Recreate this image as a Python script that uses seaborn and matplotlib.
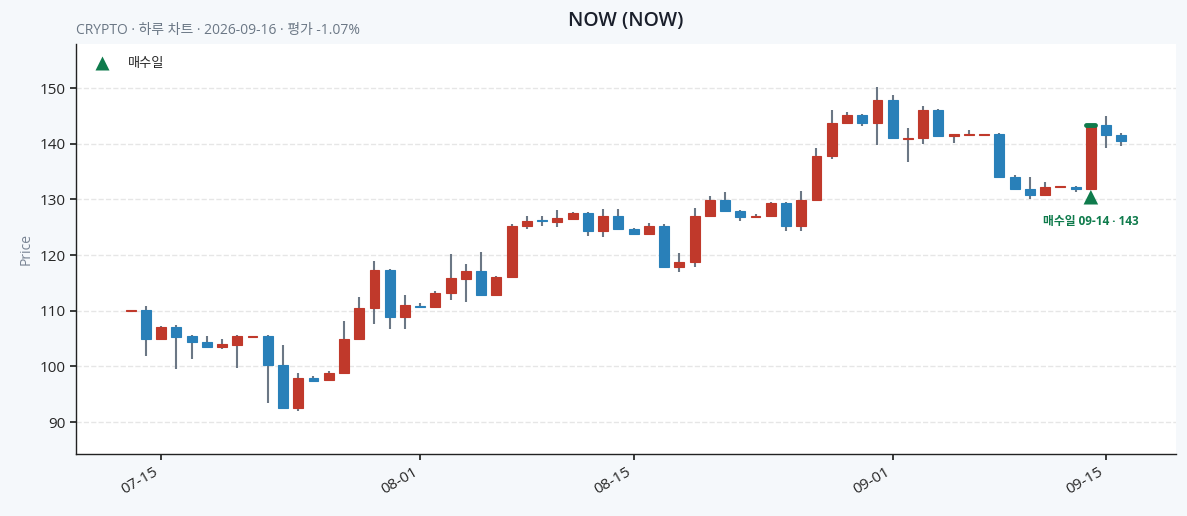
import pandas as pd
import numpy as np
import matplotlib
matplotlib.use("Agg")
import matplotlib.pyplot as plt
import matplotlib.dates as mdates
import seaborn as sns

# Daily OHLC (2026-07-13 .. 2026-09-16)
dates = pd.date_range("2026-07-13", "2026-09-16", freq="D")
opens = [110.0, 110.2, 104.9, 107.1, 105.5, 104.4, 103.5, 103.9, 105.3, 105.4,
         100.2, 92.5, 97.9, 97.5, 98.9, 104.9, 110.4, 117.4, 108.9, 110.9,
         110.7, 113.1, 115.7, 117.2, 112.8, 116.0, 125.2, 126.3, 126.0, 126.5,
         127.5, 124.4, 127.1, 124.6, 123.7, 125.2, 117.8, 118.7, 127.1, 129.8,
         127.9, 126.8, 127.1, 129.3, 125.2, 129.8, 137.7, 143.7, 145.1, 143.7,
         147.8, 140.9, 141.0, 146.0, 141.3, 141.6, 141.6, 141.7, 134.1, 131.8,
         130.7, 132.2, 132.3, 131.8, 143.3, 141.5]
closes = [110.1, 104.9, 107.0, 105.3, 104.3, 103.5, 104.0, 105.4, 105.4, 100.2,
          92.5, 97.9, 97.4, 98.9, 104.9, 110.4, 117.4, 108.9, 111.0, 110.7,
          113.1, 115.8, 117.2, 112.8, 116.0, 125.2, 126.2, 126.1, 126.6, 127.5,
          124.4, 127.1, 124.6, 123.7, 125.2, 117.8, 118.7, 127.1, 129.8, 127.9,
          126.8, 127.1, 129.3, 125.2, 129.9, 137.8, 143.7, 145.1, 143.7, 147.8,
          141.0, 141.0, 146.0, 141.3, 141.7, 141.8, 141.7, 134.1, 131.8, 130.7,
          132.3, 132.3, 131.8, 143.3, 141.5, 140.4]
highs = [110.2, 110.9, 107.2, 107.4, 105.6, 105.4, 104.9, 105.6, 105.5, 105.6,
         103.8, 98.9, 98.3, 99.2, 108.1, 112.5, 118.9, 117.5, 112.8, 111.3,
         113.5, 120.1, 118.3, 120.5, 116.2, 125.5, 127.1, 127.1, 128.0, 127.7,
         127.7, 128.2, 128.2, 124.8, 125.7, 125.5, 120.3, 128.4, 130.6, 131.3,
         128.0, 127.4, 129.5, 129.5, 131.5, 139.3, 146.0, 145.7, 145.3, 150.1,
         148.7, 142.8, 146.7, 146.2, 141.8, 142.4, 141.8, 141.9, 134.3, 134.1,
         133.1, 132.4, 132.4, 143.4, 144.9, 142.0]
lows = [110.0, 101.9, 104.8, 99.6, 101.3, 103.4, 103.2, 99.8, 105.3, 93.5,
        92.4, 92.0, 97.3, 97.4, 98.8, 104.8, 107.6, 106.7, 106.8, 110.4,
        110.6, 111.9, 111.6, 112.7, 112.7, 115.9, 124.6, 125.2, 125.0, 126.3,
        123.4, 123.2, 124.5, 123.6, 123.6, 117.7, 116.9, 117.8, 126.8, 127.8,
        126.2, 126.7, 127.0, 124.3, 124.3, 129.7, 137.2, 143.5, 143.1, 139.7,
        140.9, 136.7, 139.9, 141.2, 140.2, 141.5, 141.6, 134.0, 131.7, 130.0,
        130.6, 132.2, 131.4, 131.7, 139.3, 139.5]

buy_date = pd.Timestamp("2026-09-14")
buy_price = 143.3
buy_label = "매수일 09-14 · 143"

df = pd.DataFrame({"date": dates, "open": opens, "close": closes,
                   "high": highs, "low": lows})

UP = "#c0392b"
DOWN = "#2980b9"
WICK = "#6b7785"
GREEN = "#0f7b4c"

sns.set_theme(style="white")
plt.rcParams["font.family"] = ["Open Sans", "Noto Sans CJK KR", "DejaVu Sans"]
plt.rcParams["axes.unicode_minus"] = False

fig = plt.figure(figsize=(11.87, 5.16), dpi=100, facecolor="#f5f8fb")
ax = fig.add_axes([0.064, 0.12, 0.9267, 0.7947])
ax.set_facecolor("white")

x = mdates.date2num(df["date"])
up = df["close"] >= df["open"]
colors = np.where(up, UP, DOWN)

# wicks
ax.vlines(x, df["low"], df["high"], color=WICK, linewidth=1.5, zorder=2)
# bodies
body_bottom = np.minimum(df["open"], df["close"])
body_h = np.maximum((df["close"] - df["open"]).abs(), 0.12)
ax.bar(x, body_h, bottom=body_bottom, width=0.65, color=colors,
       edgecolor=colors, linewidth=0.8, zorder=3)

# buy day: price line on top of candle and marker under the low
bx = mdates.date2num(buy_date)
ax.plot([bx - 0.3, bx + 0.3], [buy_price, buy_price], color=GREEN, linewidth=3.5,
        solid_capstyle="round", zorder=4)
buy_low = df.loc[df["date"] == buy_date, "low"].iloc[0]
marker_df = pd.DataFrame({"date": [bx], "price": [buy_low * 0.99], "kind": ["매수일"]})
sns.scatterplot(data=marker_df, x="date", y="price", hue="kind", palette=[GREEN],
                marker="^", s=110, edgecolor="none", ax=ax, zorder=5)
ax.annotate(buy_label, (bx, buy_low * 0.99), xytext=(0, -22),
            textcoords="offset points", ha="center", va="bottom",
            fontsize=8.5, fontweight="bold", color=GREEN)

leg = ax.legend(loc="upper left", frameon=False, fontsize=9.5, handletextpad=0.9,
                borderaxespad=0.6, markerscale=0.95)

ax.set_xlim(mdates.date2num(pd.Timestamp("2026-07-09 10:00")),
            mdates.date2num(pd.Timestamp("2026-09-19 14:00")))
ax.set_ylim(84.25, 157.9)
ax.set_yticks([90, 100, 110, 120, 130, 140, 150])
ax.xaxis.set_major_locator(mdates.DayLocator(bymonthday=[1, 15]))
ax.xaxis.set_major_formatter(mdates.DateFormatter("%m-%d"))
plt.setp(ax.get_xticklabels(), rotation=30, ha="right")
ax.tick_params(axis="both", labelsize=11, length=4, color="#222222",
               left=True, bottom=True)
ax.grid(axis="y", linestyle="--", color="#e6e6e6", linewidth=1)
ax.set_axisbelow(True)
ax.set_xlabel("")
ax.set_ylabel("Price", color="#7a8594", fontsize=10)
sns.despine(ax=ax)
for s in ("left", "bottom"):
    ax.spines[s].set_color("#222222")
    ax.spines[s].set_linewidth(1)

ax.set_title("NOW (NOW)", fontsize=14, fontweight="semibold", color="#1a1f2b",
             pad=13)
fig.text(0.064, 0.94, "CRYPTO · 하루 차트 · 2026-09-16 · 평가 -1.07%",
         fontsize=10, color="#6b7785", ha="left", va="center")

fig.savefig("out.png", dpi=100, facecolor=fig.get_facecolor())
